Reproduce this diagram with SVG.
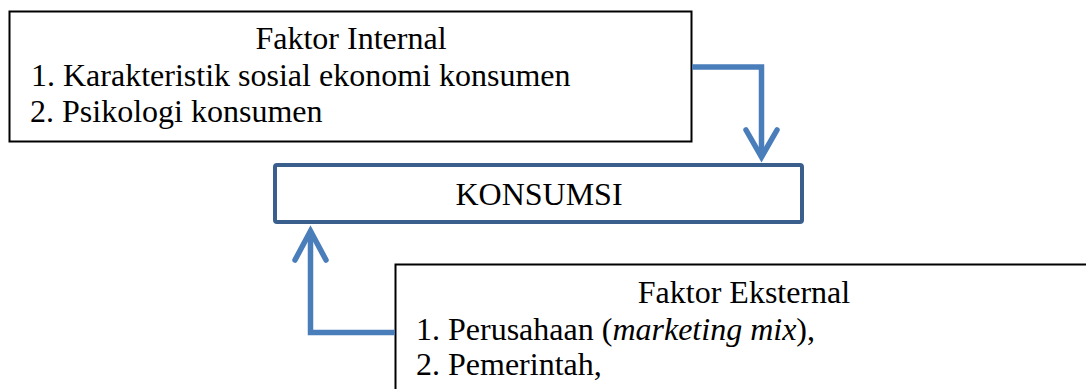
<svg xmlns="http://www.w3.org/2000/svg" width="1086" height="389" viewBox="0 0 1086 389">
<style>
.box{fill:#fff;stroke:#000;stroke-width:2}
.main{fill:#fff;stroke:#3a5f8c;stroke-width:4}
.t{font-family:"Liberation Serif","Times New Roman",serif;font-size:32px;fill:#000}
.c{text-anchor:middle}
.conn{fill:none;stroke:#4a7ebb;stroke-width:5.5}
.head{fill:none;stroke:#4a7ebb;stroke-width:5.5;stroke-linecap:round;stroke-linejoin:miter}
</style>
<rect width="1086" height="389" fill="#fff"/>
<g id="internal">
<rect class="box" x="9.5" y="11.5" width="682" height="130"/>
<text class="t c" x="351" y="49">Faktor Internal</text>
<text class="t" x="31" y="86">1. Karakteristik sosial ekonomi konsumen</text>
<text class="t" x="30" y="122">2. Psikologi konsumen</text>
</g>
<g id="konsumsi">
<rect class="main" x="275" y="165" width="527" height="57" rx="2"/>
<text class="t c" x="539" y="205">KONSUMSI</text>
</g>
<g id="external">
<rect class="box" x="395.5" y="264.5" width="700" height="140"/>
<text class="t c" x="744" y="303">Faktor Eksternal</text>
<text class="t" x="416" y="340">1. Perusahaan (<tspan font-style="italic">marketing mix</tspan>),</text>
<text class="t" x="416" y="375">2. Pemerintah,</text>
</g>
<g id="connectors">
<polyline class="conn" points="692,67 761.5,67 761.5,156"/>
<polyline class="head" points="746,130 761.5,157 777,130"/>
<polyline class="conn" points="395,332.5 310.5,332.5 310.5,232"/>
<polyline class="head" points="295,260 310.5,231 326,260"/>
</g>
</svg>
